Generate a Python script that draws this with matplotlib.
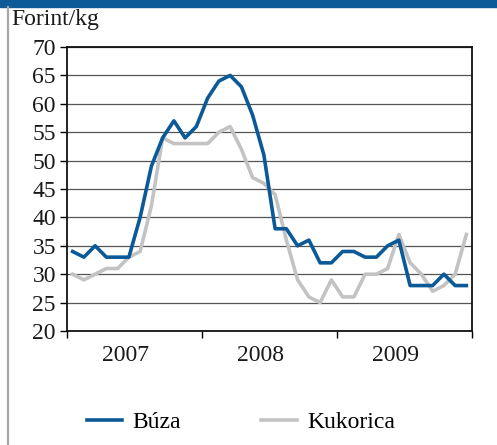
import matplotlib
matplotlib.use('Agg')
import matplotlib.pyplot as plt
from matplotlib.lines import Line2D
from matplotlib.patches import Rectangle
import numpy as np

# havi átlagárak, 2007 jan - 2009 dec
buza = [34, 33, 35, 33, 33, 33, 40, 49, 54, 57, 54, 56,
        61, 64, 65, 63, 58, 51, 38, 38, 35, 36, 32, 32,
        34, 34, 33, 33, 35, 36, 28, 28, 28, 30, 28, 28]
kukorica = [30, 29, 30, 31, 31, 33, 34, 42, 54, 53, 53, 53,
            53, 55, 56, 52, 47, 46, 44, 36, 29, 26, 25, 29,
            26, 26, 30, 30, 31, 37, 32, 30, 27, 28, 30, 37]
years = ['2007', '2008', '2009']
y_ticks = [20, 25, 30, 35, 40, 45, 50, 55, 60, 65, 70]

BLUE = '#0b5a97'
GREY = '#c3c3c3'
FONT = 'Liberation Serif'
FS = 17
plt.rcParams['font.family'] = FONT

fig = plt.figure(figsize=(4.97, 4.45), dpi=100)
ax = fig.add_axes([67 / 497, 1 - 331 / 445, 405 / 497, 284 / 445])

# fejléc sáv és bal oldali szürke vonal
fig.patches.append(Rectangle((0, 1 - 7 / 445), 1, 7 / 445, transform=fig.transFigure,
                             color='#0d5a98', zorder=0))
fig.lines.append(Line2D([8 / 497, 8 / 497], [0, 1 - 7 / 445], transform=fig.transFigure,
                        color='#a8a8a8', linewidth=1.6))

x = np.arange(len(buza)) + 0.5
ax.plot(x, kukorica, color=GREY, linewidth=2.6, zorder=3)
ax.plot(x, buza, color=BLUE, linewidth=2.6, zorder=4)

ax.set_xlim(0, 36)
ax.set_ylim(20, 70)
ax.set_yticks(y_ticks)
ax.set_yticklabels([str(v) for v in y_ticks], fontsize=FS, color='#1a1a1a')
ax.set_xticks([0, 12, 24, 36])
ax.set_xticklabels([])
ax.tick_params(axis='y', direction='out', length=5, width=1, pad=3)
ax.tick_params(axis='x', direction='out', length=5, width=1)
ax.grid(axis='y', color='#555555', linewidth=0.9)
ax.set_axisbelow(True)
for s in ax.spines.values():
    s.set_linewidth(1.3)
    s.set_color('#111111')

for i, yr in enumerate(years):
    ax.text(12 * i + 5.2, -0.085, yr, transform=ax.get_xaxis_transform(),
            ha='center', va='center', fontsize=FS, color='#1a1a1a')

fig.text(11 / 497, 1 - 20 / 445, 'Forint/kg', ha='left', va='center',
         fontsize=FS, color='#1a1a1a')

handles = [Line2D([], [], color=BLUE, linewidth=2.6),
           Line2D([], [], color=GREY, linewidth=2.6)]
fig.legend(handles, ['Búza', 'Kukorica'], loc='center', bbox_to_anchor=(0.485, 1 - 422 / 445),
           ncol=2, frameon=False, fontsize=FS, handlelength=1.5, columnspacing=3.4,
           handletextpad=0.45)

fig.savefig('out.png', dpi=100)
